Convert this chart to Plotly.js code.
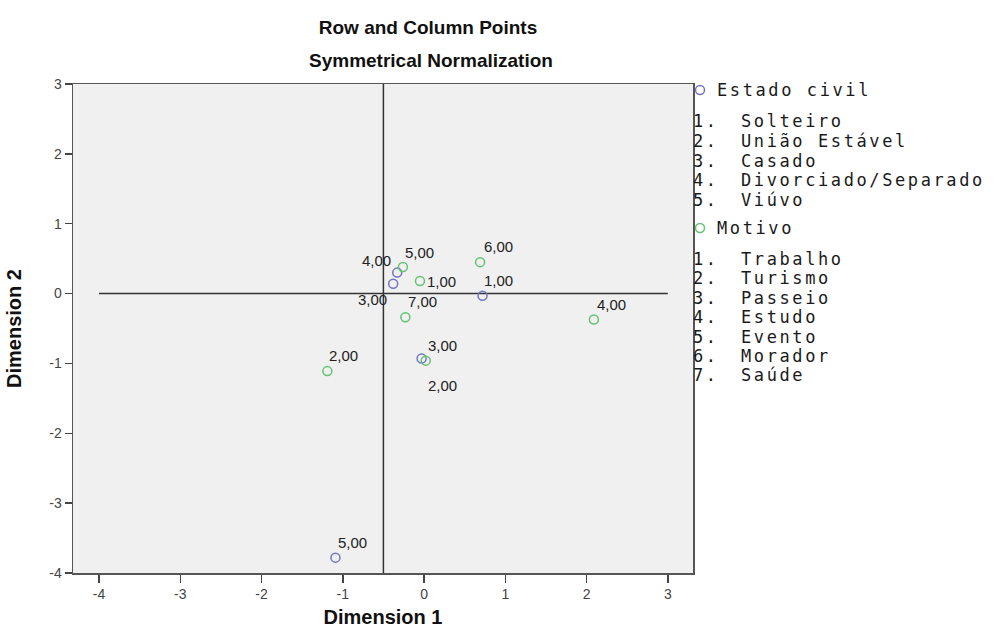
<!DOCTYPE html>
<html><head><meta charset="utf-8">
<script src="https://cdn.plot.ly/plotly-3.0.1.min.js"></script>
<style>
html,body{margin:0;padding:0;background:#fff;}
#chart{width:1001px;height:632px;}
text[style*="Mono"]{letter-spacing:2.6px;}
</style></head><body><div id="chart"></div>
<script>
// ---- data ----
const estadoCategories = ['Solteiro', 'União Estável', 'Casado', 'Divorciado/Separado', 'Viúvo'];
const estadoX = [0.72, -0.03, -0.38, -0.33, -1.09];
const estadoY = [-0.03, -0.93, 0.14, 0.30, -3.78];
const estadoLabels = ['1,00', '2,00', '3,00', '4,00', '5,00'];

const motivoCategories = ['Trabalho', 'Turismo', 'Passeio', 'Estudo', 'Evento', 'Morador', 'Saúde'];
const motivoX = [-0.05, -1.19, 0.02, 2.09, -0.26, 0.69, -0.23];
const motivoY = [0.18, -1.11, -0.96, -0.37, 0.38, 0.45, -0.34];
const motivoLabels = ['1,00', '2,00', '3,00', '4,00', '5,00', '6,00', '7,00'];

const xTickVals = [-4, -3, -2, -1, 0, 1, 2, 3];
const xTickText = ['-4', '-3', '-2', '-1', '0', '1', '2', '3'];
const yTickVals = [-4, -3, -2, -1, 0, 1, 2, 3];
const yTickText = ['-4', '-3', '-2', '-1', '0', '1', '2', '3'];
const refLineX = -0.5;
const refLineY = 0;

// ---- style / layout ----
const BLUE = '#7474c4';
const GREEN = '#62c272';
const L = 73, R = 693, T = 84, B = 573;
const W = R - L, H = B - T;
const px = v => (v - L) / W;
const py = v => (B - v) / H;

// label offsets (screen px: dx right, dy down)
const estadoLabelOffset = [[16, -15], [21, 27], [-21, 16], [-21, -12], [17, -15]];
const motivoLabelOffset = [[22, 0], [16, -16], [17, -15], [18, -15], [17, -15], [18, -16], [17, -16]];

const markerStyle = c => ({symbol: 'circle-open', size: 9, color: c, line: {width: 1.5, color: c}});

const traces = [
  {type: 'scatter', mode: 'markers', name: 'Estado civil', x: estadoX, y: estadoY,
   marker: markerStyle(BLUE), cliponaxis: false, hoverinfo: 'x+y'},
  {type: 'scatter', mode: 'markers', name: 'Motivo', x: motivoX, y: motivoY,
   marker: markerStyle(GREEN), cliponaxis: false, hoverinfo: 'x+y'}
];

const annotations = [];
const ptFont = {family: 'Liberation Sans, Arial, sans-serif', size: 15, color: '#222'};
function addPointLabels(xs, ys, labels, offs) {
  xs.forEach((x, i) => {
    annotations.push({x: x, y: ys[i], xref: 'x', yref: 'y', text: labels[i], showarrow: false,
      xanchor: 'center', yanchor: 'middle', xshift: offs[i][0], yshift: -offs[i][1], font: ptFont});
  });
}
addPointLabels(estadoX, estadoY, estadoLabels, estadoLabelOffset);
addPointLabels(motivoX, motivoY, motivoLabels, motivoLabelOffset);

// subtitle
annotations.push({xref: 'paper', yref: 'paper', x: px(431), y: py(61), xanchor: 'center', yanchor: 'middle',
  showarrow: false, text: '<b>Symmetrical Normalization</b>',
  font: {family: 'Liberation Sans, Arial, sans-serif', size: 19, color: '#111'}});

// legend-like text block
const legFont = {family: 'DejaVu Sans Mono', size: 17, color: '#1a1a1a'};
const shapes = [];
function addLegendGroup(title, color, cats, headY, listY, step) {
  annotations.push({xref: 'paper', yref: 'paper', x: px(715), y: py(headY), xanchor: 'left', yanchor: 'middle',
    showarrow: false, text: title, font: legFont});
  shapes.push({type: 'circle', xref: 'paper', yref: 'paper', x0: px(695.5), x1: px(704.5),
    y0: py(headY + 4.5), y1: py(headY - 4.5), line: {color: color, width: 1.5}});
  cats.forEach((c, i) => {
    const yy = py(listY + i * step);
    annotations.push({xref: 'paper', yref: 'paper', x: px(691), y: yy, xanchor: 'left', yanchor: 'middle',
      showarrow: false, text: (i + 1) + '.', font: legFont});
    annotations.push({xref: 'paper', yref: 'paper', x: px(739), y: yy, xanchor: 'left', yanchor: 'middle',
      showarrow: false, text: c, font: legFont});
  });
}
addLegendGroup('Estado civil', BLUE, estadoCategories, 90, 121, 19.8);
addLegendGroup('Motivo', GREEN, motivoCategories, 228, 259, 19.4);

// reference lines
shapes.push({type: 'line', xref: 'x', yref: 'y', x0: xTickVals[0], x1: xTickVals[xTickVals.length - 1],
  y0: refLineY, y1: refLineY, line: {color: '#333', width: 1.5}, layer: 'below'});
shapes.push({type: 'line', xref: 'x', yref: 'y', x0: refLineX, x1: refLineX,
  y0: yTickVals[0], y1: yTickVals[yTickVals.length - 1], line: {color: '#333', width: 1.5}, layer: 'below'});

const tickFont = {family: 'Liberation Sans, Arial, sans-serif', size: 14, color: '#444'};
const axTitleFont = {family: 'Liberation Sans, Arial, sans-serif', size: 20, color: '#111'};

const layout = {
  width: 1001, height: 632,
  margin: {l: L, r: 1001 - R, t: T, b: 632 - B, pad: 0},
  paper_bgcolor: '#ffffff',
  plot_bgcolor: '#f0f0f0',
  showlegend: false,
  title: {text: '<b>Row and Column Points</b>', xref: 'container', yref: 'container',
    x: 428 / 1001, xanchor: 'center', y: 1 - 27 / 632, yanchor: 'middle',
    font: {family: 'Liberation Sans, Arial, sans-serif', size: 19, color: '#111'}},
  xaxis: {range: [-4.32, 3.31], tickvals: xTickVals, ticktext: xTickText, ticks: 'outside', ticklen: 8,
    tickwidth: 1.5, tickcolor: '#444', showgrid: false, zeroline: false, showline: true, mirror: true,
    linecolor: '#555', linewidth: 1.5, tickfont: tickFont, fixedrange: true,
    title: {text: '<b>Dimension 1</b>', font: axTitleFont, standoff: 8}},
  yaxis: {range: [-4, 3], tickvals: yTickVals, ticktext: yTickText, ticks: 'outside', ticklen: 7,
    tickwidth: 1.5, tickcolor: '#444', showgrid: false, zeroline: false, showline: true, mirror: true,
    linecolor: '#555', linewidth: 1.5, tickfont: tickFont, fixedrange: true,
    title: {text: '<b>Dimension 2</b>', font: axTitleFont, standoff: 22}},
  annotations: annotations,
  shapes: shapes
};

Plotly.newPlot('chart', traces, layout, {displayModeBar: false, staticPlot: true});
</script></body></html>
